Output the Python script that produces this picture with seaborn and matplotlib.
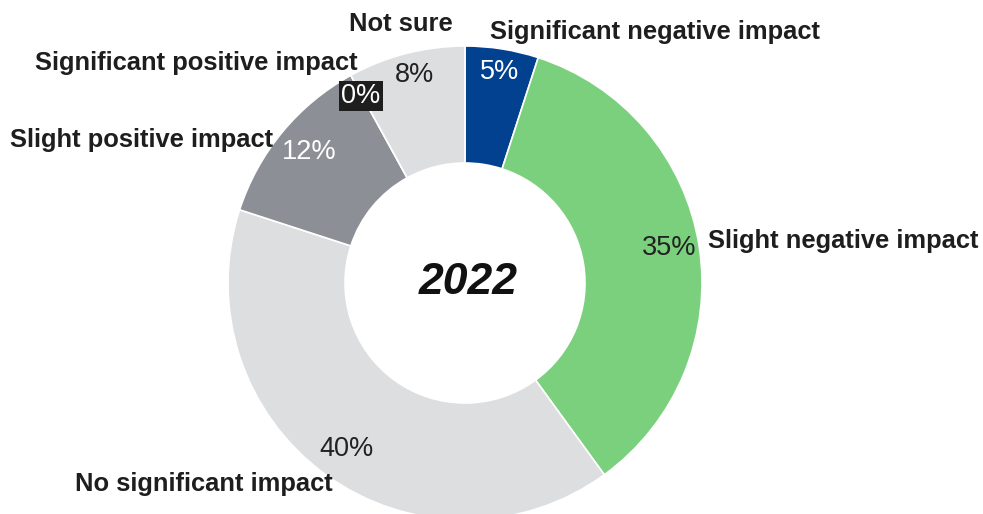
import matplotlib
matplotlib.use("Agg")
import matplotlib.pyplot as plt
import seaborn as sns

# Survey responses for 2022, clockwise from the top
categories = ["Significant negative impact", "Slight negative impact", "No significant impact",
              "Slight positive impact", "Significant positive impact", "Not sure"]
shares = [5, 35, 40, 12, 0, 8]
year_label = "2022"

sns.set_theme(style="white")
plt.rcParams["font.family"] = ["Liberation Sans", "DejaVu Sans"]

palette = sns.color_palette(["#02418f", "#7ad07c", "#dddee0", "#8c9096", "#1e1e1e", "#dddee0"])

W, H = 983, 514
fig = plt.figure(figsize=(W / 100, H / 100), dpi=100)
ax = fig.add_axes([0, 0, 1, 1])

cx, cy = 465, H - 283
outer, ring = 237, 117
ax.pie(shares, colors=palette, startangle=90, counterclock=False,
       radius=outer, center=(cx, cy), frame=True,
       wedgeprops=dict(width=ring, edgecolor="white", linewidth=1.2))
ax.set_xlim(0, W)
ax.set_ylim(0, H)
ax.set_aspect("equal")
ax.axis("off")

def py(y):
    return H - y

# Percentage labels on the ring
pct_style = [
    (500, 72, "white", None),
    (669, 248, "#222222", None),
    (346, 449, "#222222", None),
    (309, 152, "white", None),
    (361, 96, "white", "#1e1e1e"),
    (414, 75, "#222222", None),
]
for v, (x, y, c, bg) in zip(shares, pct_style):
    kw = {}
    if bg:
        kw["bbox"] = dict(boxstyle="square,pad=0.08", fc=bg, ec="none")
    ax.text(x, py(y), f"{v}%", ha="center", va="center", fontsize=19.5, color=c, **kw)

# Category labels around the ring
label_pos = [
    (490, 32, "left"),
    (708, 241, "left"),
    (75, 484, "left"),
    (10, 140, "left"),
    (35, 63, "left"),
    (401, 24, "center"),
]
for name, (x, y, ha) in zip(categories, label_pos):
    ax.text(x, py(y), name, ha=ha, va="center", fontsize=18.4, fontweight="bold",
            color="#1e1e1e")

ax.text(cx + 3, py(283), year_label, ha="center", va="center", fontsize=32,
        fontweight="bold", fontstyle="italic", color="#111111")

fig.savefig("out.png", dpi=100)
